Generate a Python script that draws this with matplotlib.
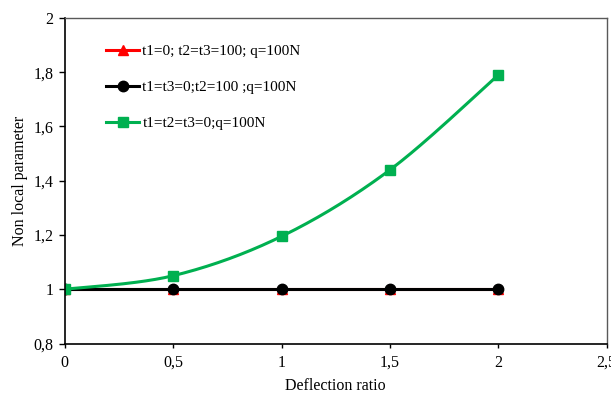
import numpy as np
import matplotlib
matplotlib.use("Agg")
import matplotlib.pyplot as plt
from matplotlib.ticker import FuncFormatter

plt.rcParams["font.family"] = ["Liberation Serif", "DejaVu Serif"]

deflection = [0, 0.5, 1, 1.5, 2]
series_labels = [
    "t1=0; t2=t3=100; q=100N",
    "t1=t3=0;t2=100 ;q=100N",
    "t1=t2=t3=0;q=100N",
]
red_vals = [1.0, 1.0, 1.0, 1.0, 1.0]
black_vals = [1.0, 1.0, 1.0, 1.0, 1.0]
green_vals = [1.0, 1.05, 1.195, 1.44, 1.79]


def smooth(xs, ys, n=40):
    # Catmull-Rom style smoothing, similar to spreadsheet "smoothed line"
    xs = np.asarray(xs, float)
    ys = np.asarray(ys, float)
    px = np.concatenate([[xs[0]], xs, [xs[-1]]])
    py = np.concatenate([[ys[0]], ys, [ys[-1]]])
    out_x, out_y = [], []
    for i in range(1, len(px) - 2):
        p0 = np.array([px[i - 1], py[i - 1]])
        p1 = np.array([px[i], py[i]])
        p2 = np.array([px[i + 1], py[i + 1]])
        p3 = np.array([px[i + 2], py[i + 2]])
        c1 = p1 + (p2 - p0) / 6
        c2 = p2 - (p3 - p1) / 6
        t = np.linspace(0, 1, n)[:, None]
        pts = ((1 - t) ** 3) * p1 + 3 * ((1 - t) ** 2) * t * c1 + 3 * (1 - t) * t**2 * c2 + t**3 * p2
        out_x.extend(pts[:, 0])
        out_y.extend(pts[:, 1])
    return out_x, out_y


fig = plt.figure(figsize=(6.11, 3.99), dpi=100)
ax = fig.add_axes([0.106, 0.139, 0.887, 0.816])

ax.plot(deflection, red_vals, color="#ff0000", linewidth=2.2)
ax.plot(deflection, red_vals, linestyle="none", marker="^", color="#ff0000", markersize=7.5)
ax.plot(deflection, black_vals, color="black", linewidth=2.2)
ax.plot(deflection, black_vals, linestyle="none", marker="o", color="black", markersize=7.5)
sx, sy = smooth(deflection, green_vals)
ax.plot(sx, sy, color="#00b050", linewidth=2.2)
ax.plot(deflection, green_vals, linestyle="none", marker="s", color="#00b050", markersize=7.5)

# legend proxies
h_red, = ax.plot([], [], color="#ff0000", marker="^", linewidth=2.2, markersize=7.5)
h_black, = ax.plot([], [], color="black", marker="o", linewidth=2.2, markersize=7.5)
h_green, = ax.plot([], [], color="#00b050", marker="s", linewidth=2.2, markersize=7.5)
ax.legend([h_red, h_black, h_green], series_labels, loc="upper left",
          bbox_to_anchor=(0.077, 0.918), frameon=False, fontsize=11,
          handlelength=2.1, handletextpad=0.25, labelspacing=1.45,
          borderaxespad=0, borderpad=0)

ax.set_xlim(0, 2.5)
ax.set_ylim(0.8, 2.0)
ax.set_xticks([0, 0.5, 1, 1.5, 2, 2.5])
ax.set_yticks([0.8, 1.0, 1.2, 1.4, 1.6, 1.8, 2.0])
fmt = FuncFormatter(lambda v, p: f"{v:g}".replace(".", ","))
ax.xaxis.set_major_formatter(fmt)
ax.yaxis.set_major_formatter(fmt)
ax.tick_params(direction="out", labelsize=11.5, width=1)
ax.tick_params(axis="x", length=3, pad=5)
ax.tick_params(axis="y", length=4, pad=4)

for side in ["top", "right"]:
    ax.spines[side].set_color("#595959")
    ax.spines[side].set_linewidth(1)
for side in ["left", "bottom"]:
    ax.spines[side].set_color("black")
    ax.spines[side].set_linewidth(1.2)

ax.set_xlabel("Deflection ratio", fontsize=11.5, labelpad=5)
ax.set_ylabel("Non local parameter", fontsize=11.5, labelpad=4)

fig.savefig("out.png", dpi=100)
